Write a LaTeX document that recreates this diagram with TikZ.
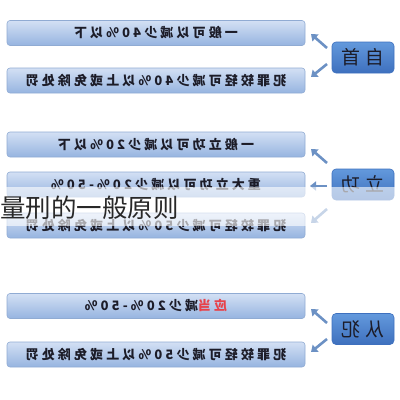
\documentclass[tikz,border=0pt]{standalone}
\usepackage{fontspec}
\usepackage{graphicx}
\usetikzlibrary{arrows.meta,calc}
\newfontfamily\cjk[LetterSpace=24]{Noto Sans CJK SC}
\newfontfamily\cjkl[LetterSpace=30]{Noto Sans CJK SC}
\newfontfamily\cjkt{Noto Sans CJK SC}
\definecolor{boxtop}{HTML}{D3E0F4}
\definecolor{boxbot}{HTML}{96B4E0}
\definecolor{boxline}{HTML}{90ABD3}
\definecolor{labtop}{HTML}{6399DC}
\definecolor{labbot}{HTML}{3E70BE}
\definecolor{arrcol}{HTML}{6C91C4}
\definecolor{txt}{HTML}{1C1C28}
\definecolor{redtxt}{HTML}{E8424A}
\newcommand{\mir}[1]{\scalebox{-1}[1]{#1}}
\tikzset{
  leftbox/.style={draw=boxline, line width=0.6pt, rounded corners=3pt,
    top color=boxtop, bottom color=boxbot, minimum width=298pt,
    minimum height=25pt, inner sep=0pt, text=txt,
    font=\cjk\bfseries\fontsize{13}{13}\selectfont},
  labbox/.style={draw=labbot, line width=0.6pt, rounded corners=4pt,
    top color=labtop, bottom color=labbot, minimum width=62pt,
    minimum height=31pt, inner sep=0pt, text=txt,
    font=\cjkl\fontsize{19}{19}\selectfont},
  arr/.style={draw=arrcol, line width=2.6pt,
    -{Triangle[length=6pt,width=9pt]}},
}
\begin{document}
\begin{tikzpicture}[x=1pt,y=-1pt]
\useasboundingbox (0,0) rectangle (400,400);
% section 1
\node[leftbox] (b1) at (156,33) {\mir{一般可以减少40\%以下}};
\node[leftbox] (b2) at (156,80.5) {\mir{犯罪较轻可减少40\%以上或免除处罚}};
\node[labbox] (zs) at (363,57.5) {\mir{自首}};
\coordinate (a1s) at (327,48);  \coordinate (a1e) at (311,34);
\coordinate (a2s) at (327,64);  \coordinate (a2e) at (311,77);
\draw[arr] (a1s) -- (a1e);
\draw[arr] (a2s) -- (a2e);
% section 2
\node[leftbox] (b3) at (156,144.5) {\mir{一般立功可以减少20\%以下}};
\node[leftbox] (b4) at (156,184.5) {\mir{重大立功可以减少20\%-50\%}};
\node[leftbox] (b5) at (156,225.5) {\mir{犯罪较轻可减少50\%以上或免除处罚}};
\node[labbox] (lg) at (363,184.5) {\mir{立功}};
\coordinate (a3s) at (327,163); \coordinate (a3e) at (311,149);
\coordinate (a4s) at (327,186); \coordinate (a4e) at (310,186);
\coordinate (a5s) at (327,209); \coordinate (a5e) at (311,223);
\draw[arr] (a3s) -- (a3e);
\draw[arr] (a4s) -- (a4e);
\draw[arr] (a5s) -- (a5e);
% section 3
\node[leftbox] (b6) at (156,306) {\mir{\textcolor{redtxt}{应当}减少20\%-50\%}};
\node[leftbox] (b7) at (156,354.5) {\mir{犯罪较轻可减少50\%以上或免除处罚}};
\node[labbox] (fc) at (363,329) {\mir{从犯}};
\coordinate (a6s) at (327,323); \coordinate (a6e) at (311,309);
\coordinate (a7s) at (327,339); \coordinate (a7e) at (311,352);
\draw[arr] (a6s) -- (a6e);
\draw[arr] (a7s) -- (a7e);
% overlay band
\fill[white, opacity=0.62] (0,187) rectangle (400,226);
\node[anchor=west, inner sep=0pt, text={rgb,255:red,40;green,40;blue,40},
  font=\cjkt\fontsize{25.5}{25.5}\selectfont] (title) at (0,208) {量刑的一般原则};
\end{tikzpicture}
\end{document}
